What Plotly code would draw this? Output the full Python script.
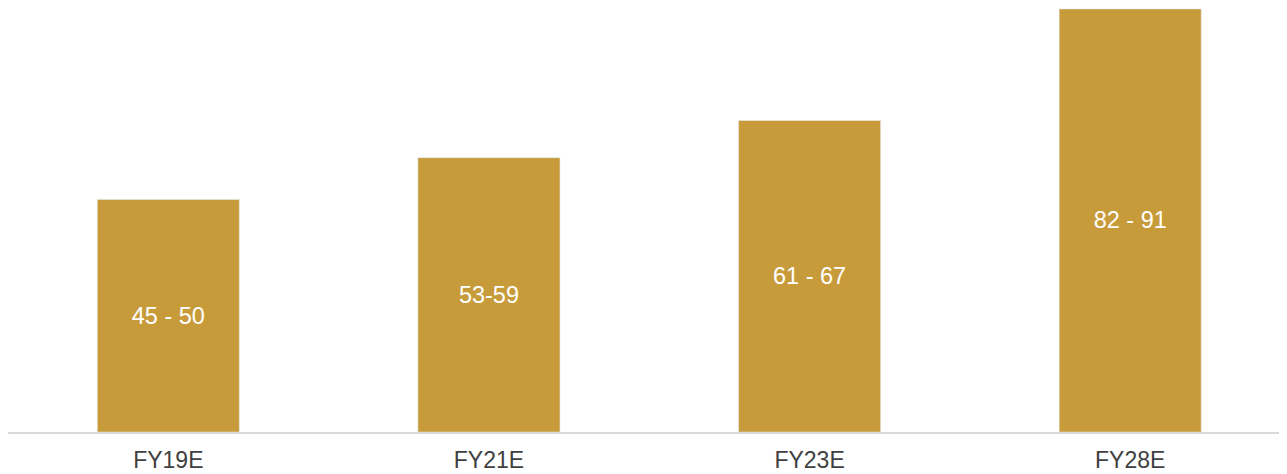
import plotly.graph_objects as go

years = ["FY19E", "FY21E", "FY23E", "FY28E"]
upper = [50, 59, 67, 91]
ranges = ["45 - 50", "53-59", "61 - 67", "82 - 91"]

fig = go.Figure(go.Bar(
    x=years,
    y=upper,
    text=ranges,
    textposition="inside",
    insidetextanchor="middle",
    textangle=0,
    textfont=dict(color="white", size=23.5, family="Liberation Sans, Arial"),
    marker_color="#C89B3A",
    width=0.443,
    hoverinfo="skip",
))
fig.update_layout(
    width=1287,
    height=474,
    margin=dict(l=0, r=8, t=0, b=50),
    plot_bgcolor="white",
    paper_bgcolor="white",
    showlegend=False,
    uniformtext=dict(mode=False),
    font=dict(family="Liberation Sans, Arial", size=23, color="#404040"),
    xaxis=dict(
        range=[-0.5, 3.489],
        showline=True,
        linecolor="#d9d9d9",
        linewidth=2,
        ticks="",
        showgrid=False,
        ticklabelstandoff=6,
        tickfont=dict(size=23, color="#404040"),
    ),
    yaxis=dict(range=[0, 91.2], visible=False, showgrid=False),
)
fig.write_html("out.html")
